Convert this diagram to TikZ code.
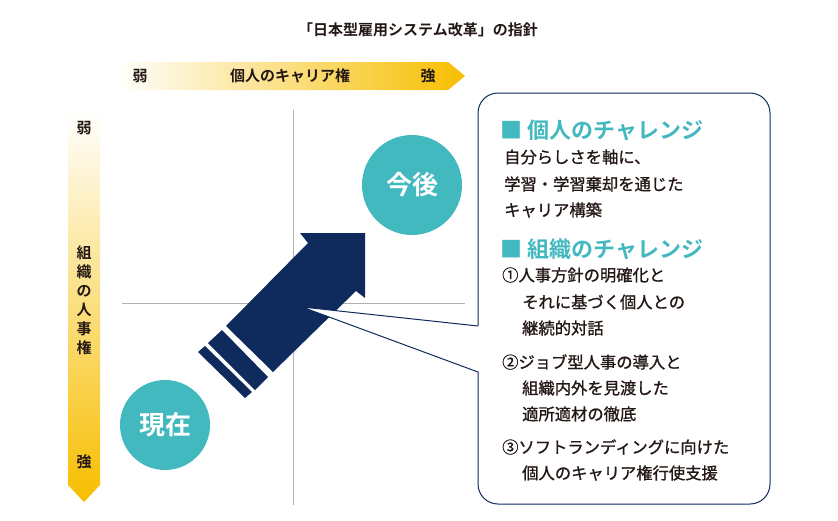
\documentclass[tikz,border=0pt]{standalone}
\usepackage{fontspec}
\setmainfont{Noto Sans CJK JP}
\newfontfamily\jpb{Noto Sans CJK JP Bold}
\newfontfamily\jpm[FakeBold=1]{Noto Sans CJK JP}
\usetikzlibrary{calc}
\definecolor{navy}{HTML}{0F2B5E}
\definecolor{teal}{HTML}{42B8BF}
\definecolor{gold}{HTML}{F7BE00}
\definecolor{txt}{HTML}{231815}
\begin{document}
\begin{tikzpicture}[x=1pt,y=-1pt,
  lab/.style={font=\jpb\fontsize{15}{15}\selectfont,text=txt,inner sep=0},
  bt/.style={font=\jpm\fontsize{16.3}{16.3}\selectfont,text=txt,anchor=west,inner sep=0},
  hd/.style={font=\jpb\fontsize{22}{22}\selectfont,text=teal,anchor=west,inner sep=0},
  circ/.style={circle,fill=teal,text=white,font=\jpb\fontsize{26}{26}\selectfont}]
\useasboundingbox (0,0) rectangle (838,520);
\node[lab] (title) at (418,30) {「日本型雇用システム改革」の指針};
% horizontal gradient arrow
\shade[left color=white,right color=gold] (115,62) -- (448,62) -- (465,76) -- (448,90) -- (115,90) -- cycle;
\node[lab] (hw) at (140,76) {弱};
\node[lab] (hm) at (290,76) {個人のキャリア権};
\node[lab] (hs) at (428,76) {強};
% vertical gradient arrow
\shade[top color=white,bottom color=gold] (68,110) -- (100,110) -- (100,485) -- (84,502) -- (68,485) -- cycle;
\node[lab] (vw) at (84,128) {弱};
\node[lab,align=center,font=\jpb\fontsize{15}{19}\selectfont] (vm) at (84,300) {組\\織\\の\\人\\事\\権};
\node[lab] (vs) at (84,462) {強};
% crosshair
\draw[gray!60,line width=1] (293,110) -- (293,505);
\draw[gray!60,line width=1] (122,303) -- (465,303);
% circles
\node[circ,minimum size=90] (now) at (165,425) {現在};
\node[circ,minimum size=100] (fut) at (412,185) {今後};
% big arrow
\fill[navy] (300,233) -- (365,233) -- (365,298) -- (356,291) -- (273,372) -- (226,326) -- (308,243) -- cycle;
\fill[navy] (208,343) -- (222,330) -- (268,377) -- (255,390) -- cycle;
\fill[navy] (198,352) -- (205,346) -- (252,392) -- (245,398) -- cycle;
% callout
\coordinate (ptr) at (302,307);
\coordinate (pa) at (478,326);
\coordinate (pb) at (478,372);
\draw[navy,line width=1,fill=white,rounded corners=20] (478,93) rectangle (770,504);
\fill[white] (ptr) -- ($(pa)+(1.5,0)$) -- ($(pb)+(1.5,0)$) -- cycle;
\draw[navy,line width=1] (pa) -- (ptr) -- (pb);
\node[hd] (h1) at (500,130) {■ 個人のチャレンジ};
\node[bt] (l1) at (504,157) {自分らしさを軸に、};
\node[bt] (l2) at (504,184) {学習・学習棄却を通じた};
\node[bt] (l3) at (504,210) {キャリア構築};
\node[hd] (h2) at (500,249) {■ 組織のチャレンジ};
\node[bt] (a1) at (502,275) {①人事方針の明確化と};
\node[bt] (a2) at (522,302) {それに基づく個人との};
\node[bt] (a3) at (522,328) {継続的対話};
\node[bt] (b1) at (502,362) {②ジョブ型人事の導入と};
\node[bt] (b2) at (522,388) {組織内外を見渡した};
\node[bt] (b3) at (522,414) {適所適材の徹底};
\node[bt] (c1) at (502,447) {③ソフトランディングに向けた};
\node[bt] (c2) at (522,473) {個人のキャリア権行使支援};
\end{tikzpicture}
\end{document}
